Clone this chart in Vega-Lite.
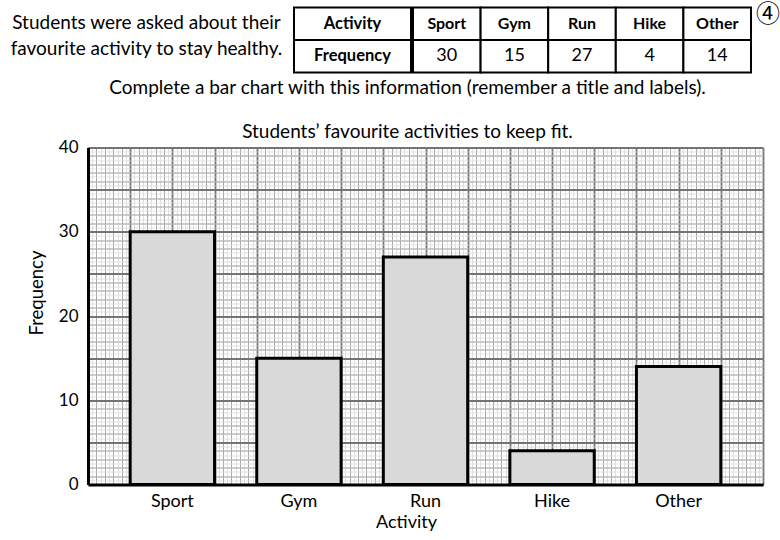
{
  "$schema": "https://vega.github.io/schema/vega-lite/v6.json",
  "padding": {"left": 0, "top": 2.5, "right": 0, "bottom": 0},
  "background": "white",
  "config": {
    "view": {"stroke": null},
    "font": "Lato",
    "axis": {"labelFont": "Lato", "titleFont": "Lato"}
  },
  "datasets": {
    "activities": [
      {"Activity": "Sport", "Frequency": 30},
      {"Activity": "Gym", "Frequency": 15},
      {"Activity": "Run", "Frequency": 27},
      {"Activity": "Hike", "Frequency": 4},
      {"Activity": "Other", "Frequency": 14}
    ],
    "headers": [{"h": "Activity"}, {"h": "Frequency"}],
    "intro": [{"t": "Students were asked about their\nfavourite activity to stay healthy."}],
    "mark4": [{"t": "④"}],
    "blank": [{"t": ""}]
  },
  "spacing": 5,
  "vconcat": [
    {
      "spacing": 0,
      "hconcat": [
        {
          "width": 293,
          "height": 65,
          "data": {"name": "intro"},
          "mark": {"type": "text", "lineBreak": "\n", "fontSize": 19, "lineHeight": 26, "align": "center", "baseline": "middle", "dy": -17, "font": "Lato", "color": "black"},
          "encoding": {"text": {"field": "t", "type": "nominal"}}
        },
        {
          "width": 117,
          "height": 65,
          "data": {"name": "headers"},
          "encoding": {
            "y": {"field": "h", "type": "nominal", "sort": null, "axis": null, "scale": {"paddingInner": 0, "paddingOuter": 0}}
          },
          "layer": [
            {"mark": {"type": "rect", "fill": "white", "stroke": "black", "strokeWidth": 2}},
            {"mark": {"type": "text", "fontSize": 16.5, "fontWeight": "bold", "font": "Lato", "color": "black"}, "encoding": {"text": {"field": "h", "type": "nominal"}}}
          ]
        },
        {
          "width": 338,
          "height": 65,
          "data": {"name": "activities"},
          "transform": [{"fold": ["Activity", "Frequency"], "as": ["row", "val"]}],
          "encoding": {
            "x": {"field": "Activity", "type": "nominal", "sort": null, "axis": null, "scale": {"paddingInner": 0, "paddingOuter": 0}},
            "y": {"field": "row", "type": "nominal", "axis": null, "scale": {"domain": ["Activity", "Frequency"], "paddingInner": 0, "paddingOuter": 0}}
          },
          "layer": [
            {"mark": {"type": "rect", "fill": "white", "stroke": "black", "strokeWidth": 2}},
            {
              "transform": [{"filter": "datum.row === 'Activity'"}],
              "mark": {"type": "text", "fontSize": 16, "fontWeight": "bold", "font": "Lato", "color": "black"},
              "encoding": {"text": {"field": "val", "type": "nominal"}}
            },
            {
              "transform": [{"filter": "datum.row === 'Frequency'"}],
              "mark": {"type": "text", "fontSize": 18, "font": "Lato", "color": "black"},
              "encoding": {"text": {"field": "val", "type": "nominal"}}
            }
          ]
        },
        {
          "width": 30,
          "height": 65,
          "data": {"name": "mark4"},
          "mark": {"type": "text", "fontSize": 24, "font": "Noto Sans CJK JP", "fontWeight": "normal", "baseline": "middle", "dy": -25, "dx": 1, "color": "black"},
          "encoding": {"text": {"field": "t", "type": "nominal"}}
        }
      ]
    },
    {
      "spacing": 0,
      "hconcat": [
        {
          "width": 27,
          "height": 10,
          "data": {"name": "blank"},
          "mark": {"type": "text"},
          "encoding": {"text": {"field": "t", "type": "nominal"}}
        },
        {
          "width": 675,
          "height": 337,
          "data": {"name": "activities"},
          "title": {
            "text": "Complete a bar chart with this information (remember a title and labels).",
            "subtitle": "Students’ favourite activities to keep fit.",
            "font": "Lato",
            "fontSize": 19,
            "fontWeight": "normal",
            "color": "black",
            "subtitleFont": "Lato",
            "subtitleFontSize": 19,
            "subtitleColor": "black",
            "subtitlePadding": 25,
            "offset": -3,
            "anchor": "middle",
            "frame": "group",
            "dx": -18
          },
          "layer": [
            {
              "mark": {"type": "point", "opacity": 0},
              "encoding": {
                "x": {"field": "Frequency", "type": "quantitative", "scale": {"domain": [0, 80], "nice": false, "zero": false},
                  "axis": {"orient": "top", "grid": true, "gridColor": "#d6d6d6", "gridWidth": 0.7, "gridOpacity": 1, "tickCount": 160, "labels": false, "ticks": false, "domain": false, "title": null, "minExtent": 0, "maxExtent": 0}},
                "y": {"field": "Frequency", "type": "quantitative", "scale": {"domain": [0, 40], "nice": false, "zero": false},
                  "axis": {"orient": "right", "grid": true, "gridColor": "#d6d6d6", "gridWidth": 0.7, "gridOpacity": 1, "tickCount": 80, "labels": false, "ticks": false, "domain": false, "title": null, "minExtent": 0, "maxExtent": 0}}
              }
            },
            {
              "mark": {"type": "point", "opacity": 0},
              "encoding": {
                "x": {"field": "Frequency", "type": "quantitative", "scale": {"domain": [0, 80], "nice": false, "zero": false},
                  "axis": {"orient": "top", "grid": true, "gridColor": "#a8a8a8", "gridWidth": 1, "gridOpacity": 1, "tickCount": 80, "labels": false, "ticks": false, "domain": false, "title": null, "minExtent": 0, "maxExtent": 0}},
                "y": {"field": "Frequency", "type": "quantitative", "scale": {"domain": [0, 40], "nice": false, "zero": false},
                  "axis": {"orient": "right", "grid": true, "gridColor": "#a8a8a8", "gridWidth": 1, "gridOpacity": 1, "tickCount": 40, "labels": false, "ticks": false, "domain": false, "title": null, "minExtent": 0, "maxExtent": 0}}
              }
            },
            {
              "mark": {"type": "point", "opacity": 0},
              "encoding": {
                "x": {"field": "Frequency", "type": "quantitative", "scale": {"domain": [0, 80], "nice": false, "zero": false},
                  "axis": {"orient": "top", "grid": true, "gridColor": "#747474", "gridWidth": 1.8, "gridOpacity": 1, "tickCount": 16, "labels": false, "ticks": false, "domain": false, "title": null, "minExtent": 0, "maxExtent": 0}},
                "y": {"field": "Frequency", "type": "quantitative", "scale": {"domain": [0, 40], "nice": false, "zero": false},
                  "axis": {"orient": "right", "grid": true, "gridColor": "#747474", "gridWidth": 1.8, "gridOpacity": 1, "tickCount": 8, "labels": false, "ticks": false, "domain": false, "title": null, "minExtent": 0, "maxExtent": 0}}
              }
            },
            {
              "mark": {"type": "bar", "fill": "#d9d9d9", "stroke": "black", "strokeWidth": 3},
              "encoding": {
                "x": {"field": "Activity", "type": "nominal", "sort": null,
                  "scale": {"paddingInner": 0.3333, "paddingOuter": 0.3333},
                  "axis": {"orient": "bottom", "labelAngle": 0, "labelFontSize": 18, "labelPadding": 8, "labelColor": "black", "ticks": false, "domainColor": "black", "domainWidth": 3, "title": "Activity", "titleFontSize": 18, "titleFontWeight": "normal", "titleColor": "black", "titlePadding": 3, "titleX": 318, "grid": false, "zindex": 1}},
                "y": {"field": "Frequency", "type": "quantitative", "scale": {"domain": [0, 40], "nice": false},
                  "axis": {"orient": "left", "values": [0, 10, 20, 30, 40], "labelFontSize": 17, "labelPadding": 10, "labelColor": "black", "ticks": false, "domainColor": "black", "domainWidth": 3, "title": "Frequency", "titleFontSize": 18.5, "titleFontWeight": "normal", "titleColor": "black", "titlePadding": 12, "titleY": 145, "grid": false, "zindex": 1}}
              }
            }
          ],
          "resolve": {"scale": {"x": "independent", "y": "independent"}, "axis": {"x": "independent", "y": "independent"}}
        }
      ]
    }
  ]
}
